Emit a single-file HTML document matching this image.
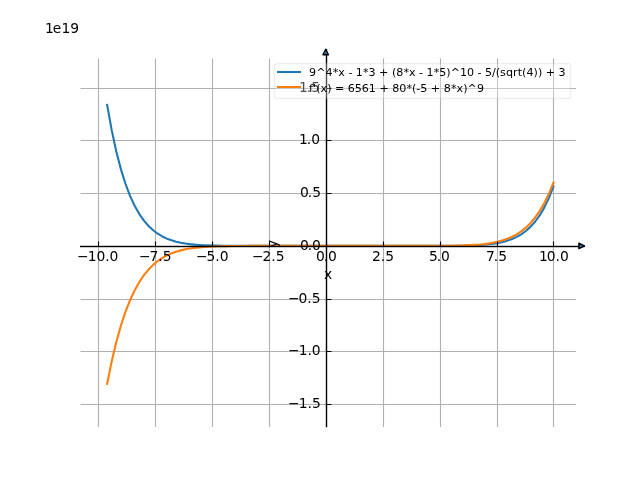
<!DOCTYPE html>
<html lang="en"><head><meta charset="utf-8"><title>Function plot</title>
<style>
html,body{margin:0;padding:0;background:#fff;overflow:hidden}
svg{display:block}
text{font-family:"DejaVu Sans","Liberation Sans",sans-serif;fill:#000}
.t10{font-size:13.889px}
.t8{font-size:11.111px}
.mid{text-anchor:middle}
.end{text-anchor:end}
.grid{fill:none;stroke:#b0b0b0;stroke-width:1.111;stroke-linecap:butt}
.curve{fill:none;stroke-width:2.083;stroke-linecap:square;stroke-linejoin:round}
.legframe{fill:#fff;stroke:#ccc;stroke-width:1.389;stroke-linejoin:miter}
.tick{fill:none;stroke:#000;stroke-width:1.111}
.spine1{fill:none;stroke:#000;stroke-width:1;stroke-linecap:butt}
.spine{fill:none;stroke:#000;stroke-width:1.389;stroke-linecap:butt}
.head{fill:#1f77b4;stroke:#000;stroke-width:1.389;stroke-linejoin:round}
</style></head>
<body>
<svg width="640" height="480" viewBox="0 0 640 480">
<defs><clipPath id="axclip"><rect x="80" y="57.6" width="496" height="369.6"/></clipPath></defs>
<rect x="0" y="0" width="640" height="480" fill="#ffffff"/>
<path class="grid" d="M98.5 58.5 V427 M155.5 58.5 V427 M212.5 58.5 V427 M269.5 58.5 V427 M326.5 58.5 V427 M383.5 58.5 V427 M440.5 58.5 V427 M497.5 58.5 V427 M553.5 58.5 V427 M80.5 404.5 H576 M80.5 351.5 H576 M80.5 299.5 H576 M80.5 246.5 H576 M80.5 193.5 H576 M80.5 140.5 H576 M80.5 88.5 H576"/>
<g clip-path="url(#axclip)">
<path class="curve" stroke="#1f77b4" d="M107.15 104.88 L111.75 130.4 L116.35 151.68 L120.95 169.37 L125.55 184 L130.15 196.07 L134.75 205.98 L139.35 214.08 L143.96 220.66 L148.56 225.99 L153.16 230.29 L157.76 233.73 L162.36 236.47 L166.96 238.65 L171.56 240.35 L176.16 241.69 L180.76 242.73 L185.37 243.53 L189.97 244.14 L194.57 244.61 L199.17 244.96 L203.77 245.22 L208.37 245.41 L212.97 245.55 L217.57 245.65 L222.17 245.72 L226.78 245.78 L231.38 245.81 L235.98 245.83 L240.58 245.85 L245.18 245.86 L249.78 245.87 L254.38 245.87 L258.98 245.88 L263.58 245.88 L268.19 245.88 L272.79 245.88 L277.39 245.88 L281.99 245.88 L286.59 245.88 L291.19 245.88 L295.79 245.88 L300.39 245.88 L304.99 245.88 L309.6 245.88 L314.2 245.88 L318.8 245.88 L323.4 245.88 L328 245.88 L332.6 245.88 L337.2 245.88 L341.8 245.88 L346.4 245.88 L351.01 245.88 L355.61 245.88 L360.21 245.88 L364.81 245.88 L369.41 245.88 L374.01 245.88 L378.61 245.88 L383.21 245.88 L387.81 245.88 L392.42 245.88 L397.02 245.88 L401.62 245.88 L406.22 245.88 L410.82 245.88 L415.42 245.88 L420.02 245.88 L424.62 245.87 L429.22 245.87 L433.83 245.86 L438.43 245.85 L443.03 245.84 L447.63 245.82 L452.23 245.78 L456.83 245.74 L461.43 245.67 L466.03 245.57 L470.63 245.44 L475.24 245.26 L479.84 245.01 L484.44 244.68 L489.04 244.24 L493.64 243.66 L498.24 242.9 L502.84 241.91 L507.44 240.63 L512.04 239 L516.65 236.92 L521.25 234.29 L525.85 231 L530.45 226.87 L535.05 221.75 L539.65 215.42 L544.25 207.62 L548.85 198.08 L553.45 186.45"/>
<path class="curve" stroke="#ff7f0e" d="M107.15 383.83 L111.75 361.14 L116.35 341.83 L120.95 325.46 L125.55 311.61 L130.15 299.95 L134.75 290.17 L139.35 281.99 L143.96 275.19 L148.56 269.54 L153.16 264.89 L157.76 261.07 L162.36 257.94 L166.96 255.4 L171.56 253.35 L176.16 251.7 L180.76 250.39 L185.37 249.34 L189.97 248.52 L194.57 247.87 L199.17 247.37 L203.77 246.99 L208.37 246.69 L212.97 246.47 L217.57 246.3 L222.17 246.18 L226.78 246.09 L231.38 246.02 L235.98 245.98 L240.58 245.94 L245.18 245.92 L249.78 245.91 L254.38 245.9 L258.98 245.89 L263.58 245.89 L268.19 245.88 L272.79 245.88 L277.39 245.88 L281.99 245.88 L286.59 245.88 L291.19 245.88 L295.79 245.88 L300.39 245.88 L304.99 245.88 L309.6 245.88 L314.2 245.88 L318.8 245.88 L323.4 245.88 L328 245.88 L332.6 245.88 L337.2 245.88 L341.8 245.88 L346.4 245.88 L351.01 245.88 L355.61 245.88 L360.21 245.88 L364.81 245.88 L369.41 245.88 L374.01 245.88 L378.61 245.88 L383.21 245.88 L387.81 245.88 L392.42 245.88 L397.02 245.88 L401.62 245.88 L406.22 245.88 L410.82 245.88 L415.42 245.87 L420.02 245.87 L424.62 245.86 L429.22 245.85 L433.83 245.84 L438.43 245.82 L443.03 245.79 L447.63 245.75 L452.23 245.68 L456.83 245.6 L461.43 245.48 L466.03 245.33 L470.63 245.11 L475.24 244.84 L479.84 244.47 L484.44 243.99 L489.04 243.38 L493.64 242.59 L498.24 241.59 L502.84 240.33 L507.44 238.74 L512.04 236.77 L516.65 234.33 L521.25 231.33 L525.85 227.65 L530.45 223.16 L535.05 217.71 L539.65 211.14 L544.25 203.24 L548.85 193.77 L553.45 182.49"/>
</g>
<path class="tick" d="M98.5 247 v-5.5 M155.5 247 v-5.5 M212.5 247 v-5.5 M269.5 247 v-5.5 M326.5 247 v-5.5 M383.5 247 v-5.5 M440.5 247 v-5.5 M497.5 247 v-5.5 M553.5 247 v-5.5"/>
<text id="t3" class="t10" x="76.93 87.69 96.39 105.33 109.38" y="260.7">−10.0</text>
<text id="t4" class="t10" x="139.03 149.5 158.15 162.65" y="260.7">−7.5</text>
<text id="t5" class="t10" x="195.97 206.59 215.17 219.83" y="260.7">−5.0</text>
<text id="t6" class="t10" x="251.91 262.53 271.36 275.77" y="260.7">−2.5</text>
<text id="t7" class="t10" x="315.91 323.74 327.91" y="260.7">0.0</text>
<text id="t8" class="t10" x="372.1 380.66 385.34" y="260.7">2.5</text>
<text id="t9" class="t10" x="429.04 436.87 441.04" y="260.7">5.0</text>
<text id="t10" class="t10" x="485.98 493.81 498.23" y="260.7">7.5</text>
<text id="t11" class="t10" x="539 546.81 555.39 560.06" y="260.7">10.0</text>
<path class="spine1" d="M80 246.5 H584.95"/>
<path class="spine1" stroke-opacity="0.21" d="M80 245.5 H584.4 M80 247.5 H584.4"/>
<path class="head" d="M578.89 243.1 L584.45 245.88 L578.89 248.66 Z"/>
<text id="t12" class="t10 mid" x="328" y="278.9">x</text>
<path class="tick" d="M326 404.5 h5.5 M326 351.5 h5.5 M326 299.5 h5.5 M326 246.5 h5.5 M326 193.5 h5.5 M326 140.5 h5.5 M326 88.5 h5.5"/>
<text id="t13" class="t10" x="287.94 298.81 307.39 312.05" y="407.5">−1.5</text>
<text id="t14" class="t10" x="287.94 298.81 307.39 311.8" y="354.5">−1.0</text>
<text id="t15" class="t10" x="287.94 298.56 307.14 311.8" y="302.5">−0.5</text>
<text id="t16" class="t10" x="300.06 307.64 312.06" y="249.5">0.0</text>
<text id="t17" class="t10" x="300.06 307.64 312.31" y="196.5">0.5</text>
<text id="t18" class="t10" x="299.06 306.64 311.31" y="143.5">1.0</text>
<text id="t19" class="t10" x="299.06 306.64 311.31" y="91.5">1.5</text>
<text id="t20" class="t10" x="44.97 52.71 61.43 70.17" y="32.7">1e19</text>
<path class="spine" d="M326.5 427.2 V49.2"/>
<path class="head" d="M322.92 54.76 L325.7 49.2 L328.48 54.76 Z"/>
<text id="t21" class="t10 mid" x="276.6" y="243.8" transform="rotate(-90 276.6 243.8)">y</text>
<path class="legframe" opacity="0.3" d="M276.72 98.5 H568.28 Q570.5 98.5 570.5 96.28 V65.72 Q570.5 63.5 568.28 63.5 H276.72 Q274.5 63.5 274.5 65.72 V96.28 Q274.5 98.5 276.72 98.5 Z"/>
<path class="curve" stroke="#1f77b4" d="M278 72 H300"/>
<text id="t1" class="t8" x="308.88 316.19 325.51 332.82 338.36 344.69 348.47 352.24 355.77 363.08 368.4 375.46 378.99 388.3 392.08 396.16 403.49 409.04 415.36 418.9 422.9 426.43 433.76 439.3 446.13 450.71 460.02 467.08 473.9 477.43 481.44 484.97 492.04 495.79 500.11 505.91 512.96 517.77 521.88 526.47 533.54 538.11 541.96 545.74 554.79 558.57" y="75.5">9^4*x - 1*3 + (8*x - 1*5)^10 - 5/(sqrt(4)) + 3</text>
<path class="curve" stroke="#ff7f0e" d="M278 87 H300"/>
<text id="t2" class="t8" x="308.88 313.04 316.33 320.43 327.24 331.33 335.11 344.18 347.71 354.77 361.83 368.66 375.97 379.51 388.82 392.35 399.16 406.47 412.04 416.36 420.13 427.44 430.72 440.29 443.82 450.88 456.44 463.27 467.6 476.91" y="91.6">f'(x) = 6561 + 80*(-5 + 8*x)^9</text>
</svg>
</body></html>
